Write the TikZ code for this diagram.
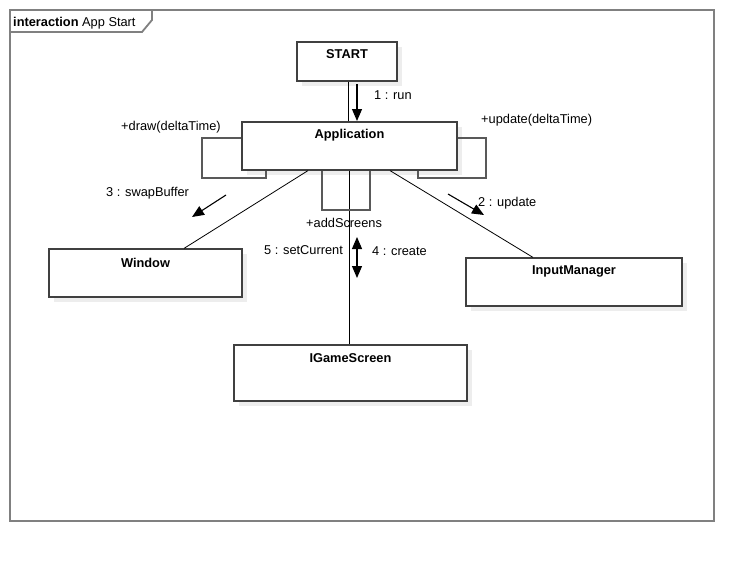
\documentclass[tikz,border=0pt]{standalone}
\usepackage{fontspec}
\setmainfont{Liberation Sans}
\usetikzlibrary{arrows.meta,shadows}
\begin{document}
\begin{tikzpicture}[x=1pt,y=-1pt,
  every node/.style={font=\fontsize{12.8}{15}\selectfont, inner sep=0pt},
  obj/.style={draw=black!75, line width=1.2pt, fill=white, rectangle,
    general shadow={fill=black!7, shadow xshift=5pt, shadow yshift=-5pt}},
  objname/.style={font=\fontsize{12.8}{15}\selectfont\bfseries, anchor=base},
  frameline/.style={draw=black!50, line width=1.8pt},
  loopline/.style={draw=black!65, line width=1.3pt},
  link/.style={draw=black, line width=0.8pt},
  msg/.style={draw=black, line width=1.1pt, -{Triangle[length=12pt,width=10pt]}},
  msgboth/.style={draw=black, line width=1.1pt, {Triangle[length=12pt,width=10pt]}-{Triangle[length=12pt,width=10pt]}},
  txt/.style={anchor=base west}
]
\useasboundingbox (0,0) rectangle (754,562);
% frame
\draw[frameline] (10,10) rectangle (714,521);
\draw[frameline] (10,32) -- (142,32) -- (152,20) -- (152,10);
\node[txt] (title) at (13,26) {\textbf{interaction} App Start};

% objects
\node[obj, minimum width=100pt, minimum height=39pt] (start) at (347,61.5) {};
\node[objname] (startlbl) at ([yshift=-16.6pt]start.north) {START};
\node[obj, minimum width=215pt, minimum height=48pt] (app) at (349.5,146) {};
\node[objname] (applbl) at ([yshift=-16.6pt]app.north) {Application};
\node[obj, minimum width=193pt, minimum height=48pt] (win) at (145.5,273) {};
\node[objname] (winlbl) at ([yshift=-18.6pt]win.north) {Window};
\node[obj, minimum width=216pt, minimum height=48pt] (inp) at (574,282) {};
\node[objname] (inplbl) at ([yshift=-16.6pt]inp.north) {InputManager};
\node[obj, minimum width=233pt, minimum height=56pt] (gs) at (350.5,373) {};
\node[objname] (gslbl) at ([yshift=-17.6pt]gs.north) {IGameScreen};

% links
\draw[link] (start.south -| 348,0) -- (app.north -| 348,0);
\draw[link] (app.south -| 308,0) -- (win.north -| 184,0);
\draw[link] (app.south -| 390,0) -- (inp.north -| 533,0);
\draw[link] (app.south -| 349,0) -- (gs.north -| 349,0);

% self loops
\draw[loopline] (app.west |- 0,138) -- (202,138) -- (202,178) -- (266,178) -- (app.south -| 266,0);
\draw[loopline] (app.east |- 0,138) -- (486,138) -- (486,178) -- (418,178) -- (app.south -| 418,0);
\draw[loopline] (app.south -| 322,0) -- (322,210) -- (370,210) -- (app.south -| 370,0);

% messages
\coordinate (m1a) at (357,84);
\coordinate (m1b) at (357,121);
\draw[msg] (m1a) -- (m1b);
\coordinate (m2a) at (448,194);
\coordinate (m2b) at (484,215);
\draw[msg] (m2a) -- (m2b);
\coordinate (m3a) at (226,195);
\coordinate (m3b) at (192,217);
\draw[msg] (m3a) -- (m3b);
\coordinate (m4a) at (357,237);
\coordinate (m4b) at (357,278);
\draw[msgboth] (m4a) -- (m4b);

% labels
\node[txt] (l1) at (374,99.5) {1 : run};
\node[txt] (ldraw) at (121,130) {+draw(deltaTime)};
\node[txt] (lupd) at (481,123) {+update(deltaTime)};
\node[txt] (l3) at (106,196.5) {3 : swapBuffer};
\node[txt] (l2) at (478,206.5) {2 : update};
\node[txt] (ladd) at (306,227.5) {+addScreens};
\node[txt] (l5) at (264,254.5) {5 : setCurrent};
\node[txt] (l4) at (372,255.5) {4 : create};
\end{tikzpicture}
\end{document}
